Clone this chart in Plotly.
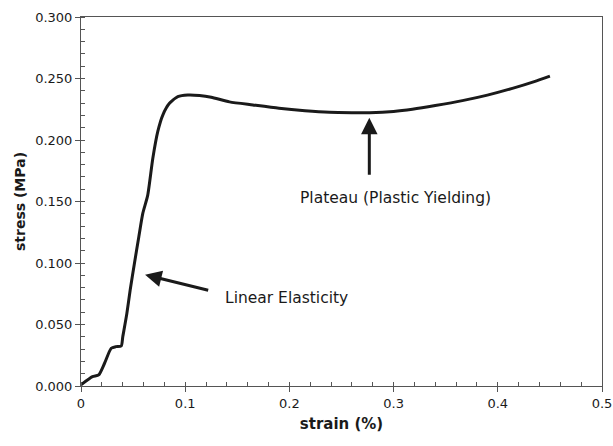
import plotly.graph_objects as go

# Stress-strain curve of the foam sample
strain = [0.0, 0.011, 0.017, 0.0226, 0.029, 0.0335, 0.0386, 0.0401, 0.044, 0.0472, 0.0513,
          0.0555, 0.0593, 0.064, 0.0689, 0.0737, 0.0785, 0.0849, 0.0929, 0.1025, 0.1137,
          0.125, 0.1425, 0.165, 0.19, 0.215, 0.2385, 0.26, 0.277, 0.30, 0.318, 0.34, 0.366,
          0.39, 0.414, 0.435, 0.45]
stress = [0.001, 0.0076, 0.009, 0.0185, 0.0307, 0.032, 0.0325, 0.040, 0.059, 0.078, 0.0998,
          0.1214, 0.1404, 0.155, 0.185, 0.207, 0.2203, 0.2298, 0.2352, 0.2366, 0.2362,
          0.2348, 0.231, 0.2285, 0.2258, 0.2238, 0.2225, 0.2222, 0.2222, 0.2232, 0.225, 0.2280,
          0.232, 0.2365, 0.242, 0.2475, 0.252]

# Annotation labels: (text, arrow head x, head y, tail x, tail y, text x, text y, anchor)
labels = [
    ("Linear Elasticity", 0.0615, 0.0905, 0.1235, 0.0775, 0.136, 0.0716, "left"),
    ("Plateau (Plastic Yielding)", 0.2767, 0.2180, 0.2767, 0.1705, 0.3015, 0.1530, "center"),
]

FONT = "DejaVu Sans"
INK = "#1a1a1a"

fig = go.Figure()
fig.add_trace(go.Scatter(
    x=strain, y=stress, mode="lines",
    line=dict(color=INK, width=3, shape="spline", smoothing=0.6),
    showlegend=False, hoverinfo="skip",
))

for text, hx, hy, tx, ty, lx, ly, anchor in labels:
    fig.add_annotation(
        x=hx, y=hy, ax=tx, ay=ty, xref="x", yref="y", axref="x", ayref="y",
        text="", showarrow=True, arrowhead=2, arrowsize=1.1, arrowwidth=3,
        arrowcolor=INK,
    )
    fig.add_annotation(
        x=lx, y=ly, xref="x", yref="y", text=text, showarrow=False,
        xanchor=anchor, yanchor="middle",
        font=dict(family=FONT, size=15.5, color=INK),
    )

axis_common = dict(
    showgrid=False, zeroline=False, showline=True, linecolor="#555", linewidth=1,
    mirror=True, ticks="outside", ticklen=5, tickcolor="#555", automargin=False,
    tickfont=dict(family=FONT, size=13, color=INK),
)

fig.update_xaxes(
    range=[0, 0.5], dtick=0.1, tickformat="~g",
    minor=dict(dtick=0.02, ticks="inside", ticklen=4, tickcolor="#555"),
    title=dict(text="<b>strain (%)</b>", font=dict(family=FONT, size=15, color=INK),
               standoff=8),
    **axis_common,
)
fig.update_yaxes(
    range=[0, 0.3], dtick=0.05, tickformat=".3f",
    minor=dict(dtick=0.01, ticks="inside", ticklen=4, tickcolor="#555"),
    title=dict(text="<b>stress (MPa)</b>", font=dict(family=FONT, size=14, color=INK),
               standoff=6),
    **axis_common,
)

fig.update_layout(
    width=613, height=446,
    margin=dict(l=81, r=11, t=17, b=60),
    paper_bgcolor="white", plot_bgcolor="white",
)

fig.write_html("out.html")
